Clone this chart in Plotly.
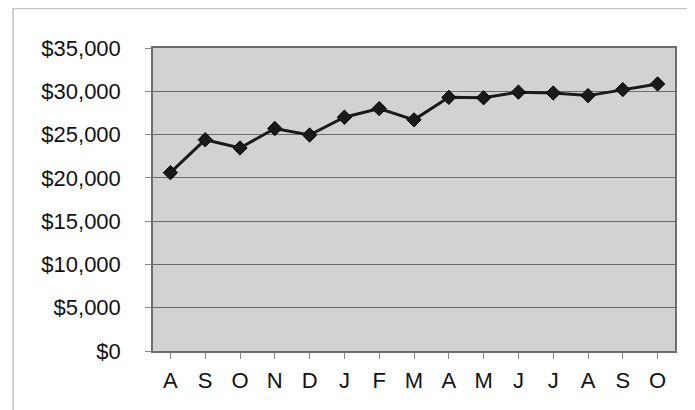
import plotly.graph_objects as go

months = ["A", "S", "O", "N", "D", "J", "F", "M", "A", "M", "J", "J", "A", "S", "O"]
values = [20600, 24400, 23450, 25700, 24950, 27000, 28000, 26700,
          29300, 29250, 29900, 29800, 29500, 30200, 30850]
y_ticks = [0, 5000, 10000, 15000, 20000, 25000, 30000, 35000]
y_tick_labels = ["$0", "$5,000", "$10,000", "$15,000", "$20,000",
                 "$25,000", "$30,000", "$35,000"]

x_idx = list(range(len(months)))

fig = go.Figure()
fig.add_trace(go.Scatter(
    x=x_idx, y=values, mode="lines+markers",
    line=dict(color="#1a1a1a", width=3),
    marker=dict(symbol="diamond", size=11, color="#1a1a1a",
                line=dict(color="#000000", width=1)),
    hoverinfo="skip",
))

fig.update_layout(
    width=687, height=402,
    margin=dict(l=145, r=20, t=40, b=59),
    paper_bgcolor="white",
    plot_bgcolor="#d2d2d2",
    showlegend=False,
    font=dict(family="Liberation Sans, Arial, sans-serif", size=22, color="#111111"),
    xaxis=dict(
        tickmode="array", tickvals=x_idx, ticktext=months,
        range=[-0.5, len(months) - 0.5],
        showgrid=False, zeroline=False,
        showline=True, linecolor="#6e6e6e", linewidth=1.5, mirror=True,
        ticks="outside", ticklen=6, tickcolor="#8a8a8a", tickson="boundaries",
        ticklabelstandoff=3,
    ),
    yaxis=dict(
        range=[0, 35000], tickmode="array", tickvals=y_ticks,
        ticktext=y_tick_labels,
        showgrid=True, gridcolor="#6a6a6a", gridwidth=1,
        zeroline=False,
        showline=True, linecolor="#6e6e6e", linewidth=1.5, mirror=True,
        ticks="outside", ticklen=6, tickcolor="#8a8a8a",
        ticklabelstandoff=20,
    ),
    shapes=[dict(
        type="rect", xref="paper", yref="paper",
        x0=-0.268, x1=1.0249, y0=-0.4, y1=1.130,
        line=dict(color="#c4c4c4", width=1.5), fillcolor="rgba(0,0,0,0)",
        layer="below",
    )],
)

fig.write_html("out.html")
